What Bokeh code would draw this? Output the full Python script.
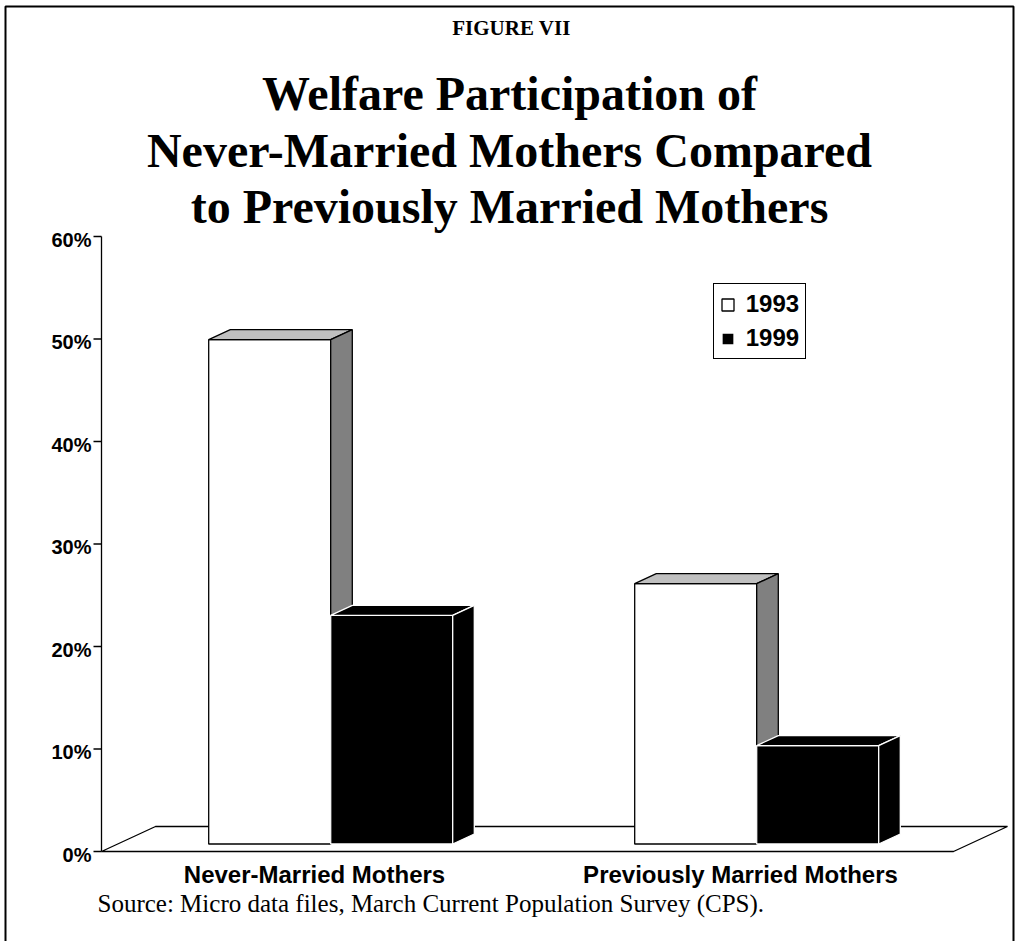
from bokeh.plotting import figure
from bokeh.models import Range1d, Legend, LegendItem
from bokeh.core.properties import value
from bokeh.embed import file_html
from bokeh.resources import INLINE

# ---------------- data ----------------
categories = ["Never-Married Mothers", "Previously Married Mothers"]
years = ["1993", "1999"]
vals_1993 = [49.2, 25.4]
vals_1999 = [22.3, 9.6]
y_ticks = [0, 10, 20, 30, 40, 50, 60]
y_tick_labels = ["0%", "10%", "20%", "30%", "40%", "50%", "60%"]

fig_title_small = "FIGURE VII"
title_lines = ["Welfare Participation of",
               "Never-Married Mothers Compared",
               "to Previously Married Mothers"]
source_text = "Source:  Micro data files, March Current Population Survey (CPS)."

# ---------------- layout (page pixels) ----------------
W, H = 1017, 941
AX_X, ZERO_Y = 101.0, 851.0
PX_PER_GROUP, PX_PER_PCT = 426.0, 10.25


def X(px):
    return (px - AX_X) / PX_PER_GROUP


def Y(py):
    return (ZERO_Y - py) / PX_PER_PCT


DEPTH_X = X(155) - X(101)
DEPTH_Y = Y(826) - Y(851)
BAR_W = 122.0 / PX_PER_GROUP
F1, F2 = 0.3, 0.7

p = figure(width=W, height=H,
           x_range=Range1d(X(0), X(W)), y_range=Range1d(Y(H), Y(0)),
           output_backend="svg", toolbar_location=None,
           x_axis_type=None, y_axis_type=None, min_border=0)
p.outline_line_color = None
p.background_fill_color = "white"
p.border_fill_color = "white"

# frame border
p.line(x=[X(5), X(5), X(1013), X(1013)], y=[Y(990), Y(6), Y(6), Y(990)],
       line_color="black", line_width=2)

# floor
n = len(categories)
p.patch(x=[0, n, n + DEPTH_X, DEPTH_X], y=[0, 0, DEPTH_Y, DEPTH_Y],
        fill_color="white", line_color="black", line_width=1.3)

# bars
styles = [
    dict(front="#ffffff", top="#c0c0c0", side="#808080", line="black"),
    dict(front="#000000", top="#000000", side="#000000", line="#ffffff"),
]
front_renderers = []
for s, vals in enumerate([vals_1993, vals_1999]):
    st = styles[s]
    lefts, rights, bottoms, tops = [], [], [], []
    pxs, pys, pcols = [], [], []
    bdx, bdy = (F2 - F1) * DEPTH_X, (F2 - F1) * DEPTH_Y
    for g, v in enumerate(vals):
        x0 = g + 0.5 - BAR_W + s * BAR_W + F1 * DEPTH_X
        x1 = x0 + BAR_W
        y0 = F1 * DEPTH_Y
        y1 = y0 + v
        lefts.append(x0); rights.append(x1); bottoms.append(y0); tops.append(y1)
        pxs.append([x0, x1, x1 + bdx, x0 + bdx]); pys.append([y1, y1, y1 + bdy, y1 + bdy]); pcols.append(st["top"])
        pxs.append([x1, x1 + bdx, x1 + bdx, x1]); pys.append([y0, y0 + bdy, y1 + bdy, y1]); pcols.append(st["side"])
    r = p.quad(left=lefts, right=rights, bottom=bottoms, top=tops,
               fill_color=st["front"], line_color=st["line"], line_width=1.3)
    front_renderers.append(r)
    p.patches(xs=pxs, ys=pys, fill_color=pcols, line_color=st["line"], line_width=1.3)

# y axis (drawn through data scale)
p.segment(x0=[0], y0=[y_ticks[0]], x1=[0], y1=[y_ticks[-1]], line_color="black", line_width=1.3)
p.segment(x0=[X(93)] * len(y_ticks), y0=y_ticks, x1=[0] * len(y_ticks), y1=y_ticks,
          line_color="black", line_width=1.3)
p.text(x=[X(91)] * len(y_ticks), y=y_ticks, text=y_tick_labels,
       text_align="right", text_baseline="middle", y_offset=3,
       text_font=value("Liberation Sans"), text_font_style="bold",
       text_font_size="20px", text_color="black")

# category labels
p.text(x=[g + 0.5 for g in range(n)], y=[Y(874)] * n, text=categories,
       text_align="center", text_baseline="middle",
       text_font=value("Liberation Sans"), text_font_style="bold",
       text_font_size="24px", text_color="black")

# titles
p.text(x=[X(511)], y=[Y(27)], text=[fig_title_small], text_align="center",
       text_baseline="alphabetic", text_font=value("Liberation Serif"),
       text_font_style="bold", text_font_size="21px", text_color="black")
p.text(x=[X(509)] * 3, y=[Y(93), Y(150), Y(206)], text=title_lines,
       text_align="center", text_baseline="alphabetic",
       text_font=value("Liberation Serif"), text_font_style="bold",
       text_font_size="48px", text_color="black")

# source
p.text(x=[X(97)], y=[Y(903)], text=[source_text], text_align="left",
       text_baseline="middle", text_font=value("Liberation Serif"),
       text_font_size="25px", text_color="black")

# legend
legend = Legend(items=[LegendItem(label=years[0], renderers=[front_renderers[0]]),
                       LegendItem(label=years[1], renderers=[front_renderers[1]])],
                location=(712.7, H - 359.3),
                border_line_color="black", border_line_width=1.5, border_line_alpha=1.0,
                background_fill_color="white", background_fill_alpha=1.0,
                glyph_width=15, glyph_height=15, label_standoff=11,
                label_text_font="Liberation Sans", label_text_font_style="bold",
                label_text_font_size="24px", label_text_color="black",
                label_height=25, padding=6, spacing=6, margin=0)
p.add_layout(legend)

open("out.html", "w").write(file_html(p, INLINE))
